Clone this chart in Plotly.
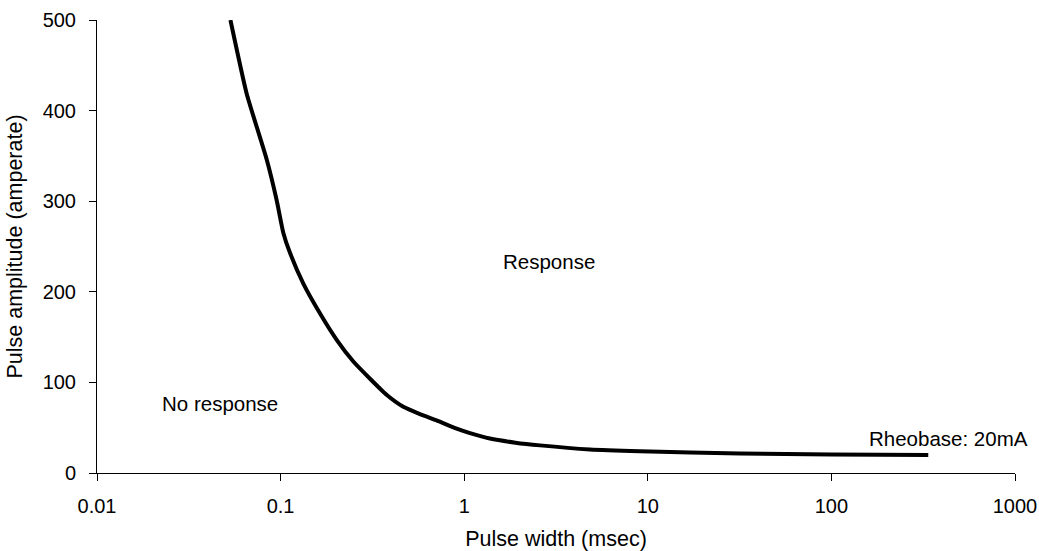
import math
import plotly.graph_objects as go

# Strength-duration curve: pulse width (msec) vs threshold pulse amplitude
pulse_width = [0.0533, 0.0653, 0.084, 0.0952, 0.1035, 0.1125, 0.133, 0.164,
               0.202, 0.249, 0.307, 0.379, 0.466, 0.574, 0.708, 0.91, 1.076,
               1.38, 1.9, 2.59, 4.84, 9.06, 31.8, 100, 337]
pulse_amplitude = [500, 419, 346, 301, 265, 243, 209, 176,
                   147, 123, 104, 86, 73, 65, 58, 49, 44,
                   38, 33.5, 30.5, 26, 24, 21.5, 20.5, 20]

x_tick_values = [0.01, 0.1, 1, 10, 100, 1000]
x_tick_labels = ["0.01", "0.1", "1", "10", "100", "1000"]
y_tick_values = [0, 100, 200, 300, 400, 500]

region_labels = ["Response", "No response", "Rheobase: 20mA"]
region_x = [2.9, 0.0468, 435]
region_y = [233, 77, 38]

FONT = "Arial, 'Liberation Sans', sans-serif"

fig = go.Figure()
fig.add_trace(go.Scatter(
    x=pulse_width, y=pulse_amplitude, mode="lines",
    line=dict(color="black", width=4, shape="spline", smoothing=0.5),
    showlegend=False, hoverinfo="skip",
))

# annotations on a log axis take log10 positions
for text, xv, yv in zip(region_labels, region_x, region_y):
    fig.add_annotation(x=math.log10(xv), y=yv, xref="x", yref="y",
                       text=text, showarrow=False, xanchor="center", yanchor="middle",
                       font=dict(family=FONT, size=20.5, color="black"))

fig.update_layout(
    width=1039, height=551,
    margin=dict(l=97, r=24, t=20, b=78),
    paper_bgcolor="white", plot_bgcolor="white",
    font=dict(family=FONT, size=20, color="black"),
    xaxis=dict(
        type="log", range=[-2, 3], automargin=False,
        tickvals=x_tick_values, ticktext=x_tick_labels,
        showgrid=False, zeroline=False,
        showline=True, linecolor="black", linewidth=1,
        ticks="outside", ticklen=7, tickcolor="black", tickwidth=1,
        ticklabelstandoff=8,
        title=dict(text="Pulse width (msec)", standoff=24,
                   font=dict(family=FONT, size=21.5)),
    ),
    yaxis=dict(
        range=[0, 500], automargin=False,
        tickvals=y_tick_values,
        showgrid=False, zeroline=False,
        showline=True, linecolor="black", linewidth=1,
        ticks="outside", ticklen=7, tickcolor="black", tickwidth=1,
        ticklabelstandoff=9,
        title=dict(text="Pulse amplitude (amperate)", standoff=14,
                   font=dict(family=FONT, size=21.5)),
    ),
)

fig.write_html("out.html")
